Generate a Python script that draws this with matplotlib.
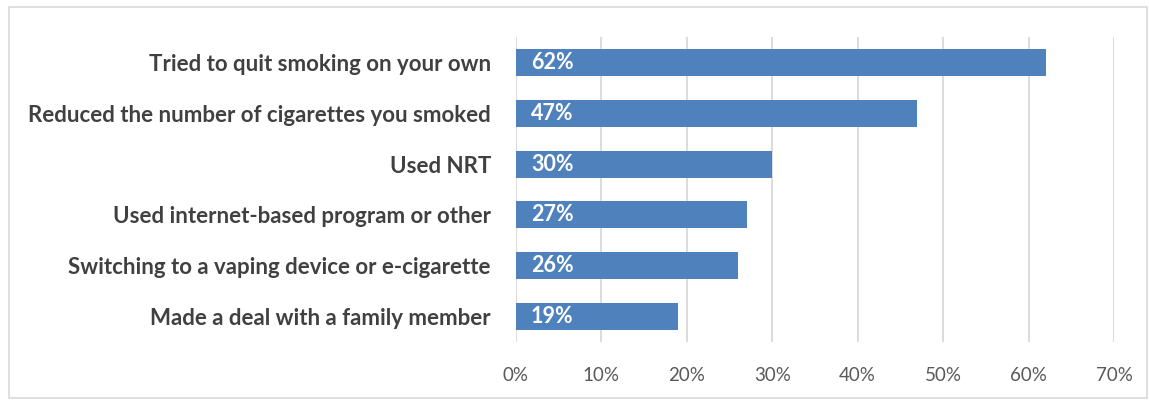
import matplotlib
matplotlib.use("Agg")
import matplotlib.pyplot as plt
from matplotlib.patches import Rectangle

# data (top to bottom)
categories = ["Tried to quit smoking on your own",
              "Reduced the number of cigarettes you smoked",
              "Used NRT",
              "Used internet-based program or other",
              "Switching to a vaping device or e-cigarette",
              "Made a deal with a family member"]
values = [62, 47, 30, 27, 26, 19]
xticks = [0, 10, 20, 30, 40, 50, 60, 70]

bar_color = "#4F81BD"
plt.rcParams['font.family'] = ['Lato', 'DejaVu Sans']

fig = plt.figure(figsize=(11.49, 4.0), dpi=100)
ax = fig.add_axes([0.449, 0.145, 0.5205, 0.7625])

ypos = list(range(len(categories)))[::-1]
ax.barh(ypos, values, height=0.53, color=bar_color, zorder=3)
for y, v in zip(ypos, values):
    ax.text(1.75, y, f"{v}%", color="white", fontweight="bold",
            fontsize=15.5, va="center", ha="left", zorder=4)

ax.set_xlim(0, 70)
ax.set_ylim(-0.5, 5.5)
ax.set_xticks(xticks)
ax.set_xticklabels([f"{t}%" for t in xticks], color="#595959", fontsize=13.5)
ax.set_yticks(ypos)
ax.set_yticklabels(categories, fontweight="bold", color="#404040", fontsize=16)
ax.tick_params(axis="both", length=0)
ax.tick_params(axis="x", pad=18)
ax.tick_params(axis="y", pad=18)
ax.grid(axis="x", color="#D9D9D9", linewidth=1.3, zorder=0)
for s in ax.spines.values():
    s.set_visible(False)

# outer frame
fig.patches.append(Rectangle((0.008, 0.005), 0.99, 0.978, transform=fig.transFigure,
                             fill=False, edgecolor="#D9D9D9", linewidth=1.2))

fig.savefig("out.png", dpi=100)
